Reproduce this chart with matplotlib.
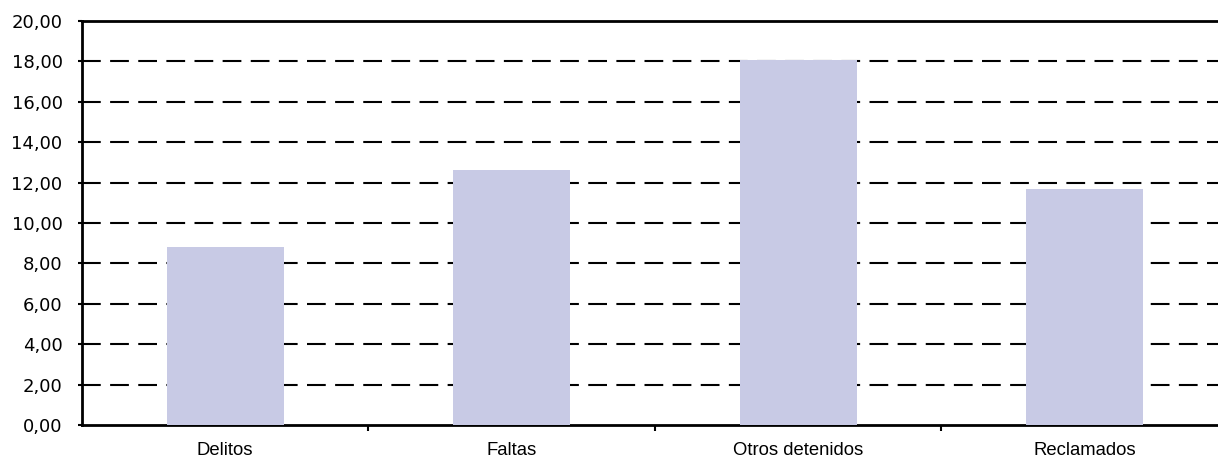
import matplotlib
matplotlib.use("Agg")
import matplotlib.pyplot as plt
import numpy as np

categories = ["Delitos", "Faltas", "Otros detenidos", "Reclamados"]
values = [8.80, 12.62, 18.07, 11.67]
yticks = [0, 2, 4, 6, 8, 10, 12, 14, 16, 18, 20]

plt.rcParams['font.family'] = ['Liberation Sans', 'DejaVu Sans']
fig = plt.figure(figsize=(12.18, 4.59), dpi=100)
W, H = 1218, 459
left, right, top, bottom = 82, 1228, 21, 425
ax = fig.add_axes([left / W, 1 - bottom / H, (right - left) / W, (bottom - top) / H])

x = np.arange(len(categories))
ax.bar(x, values, width=0.41, color="#C8CAE5", zorder=3)

ax.set_xlim(-0.5, len(categories) - 0.5)
ax.set_ylim(0, 20)
ax.set_yticks(yticks)
ax.set_yticklabels([f"{v:.2f}".replace(".", ",") for v in yticks],
                   fontsize=13, family=['DejaVu Sans'])
ax.set_xticks(x)
ax.set_xticklabels(categories, fontsize=13.3)
ax.tick_params(axis='x', length=0, pad=12)
ax.set_xticks(np.arange(0.5, len(categories) - 0.5, 1.0), minor=True)
ax.tick_params(axis='x', which='minor', length=4, width=1.5, direction='out')
ax.tick_params(axis='y', length=3, width=1.5, direction='out', pad=11)

for yv in yticks[1:-1]:
    ax.axhline(yv, color="black", lw=1.5, dashes=(9, 4.5), zorder=1)

for s in ['left', 'bottom', 'top']:
    ax.spines[s].set_linewidth(2)
    ax.spines[s].set_color("black")
ax.spines['right'].set_visible(False)

fig.savefig("out.png", dpi=100)
